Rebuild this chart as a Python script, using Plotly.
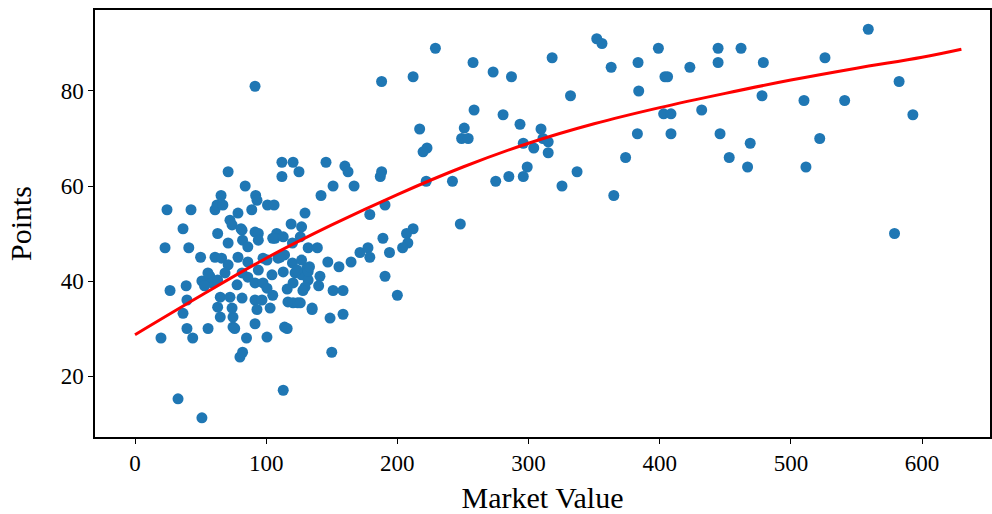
import plotly.graph_objects as go

market_value = [
    19.8, 24.4, 22.9, 26.7, 32.8, 36.6, 36.6, 39, 39.6, 39.6, 41, 42.7, 44, 50, 51, 51, 55.7, 57, 58.7, 55.6, 53,
    61, 62.5, 67, 65.6, 71, 84, 89, 92, 93, 101, 106, 78.5, 72.4, 74, 63, 81.6, 91.5, 94, 108, 113, 106.7,
    71, 82, 86, 94, 105, 120, 132, 119, 127, 129.6, 61, 66, 78.5, 86, 97.6, 109, 114, 120, 127, 71, 68.6,
    81.6, 86, 94, 104.4, 113, 122, 127, 132, 63, 77.8, 91.5, 97.6, 100.6, 116, 129.6, 65, 63, 72.4, 81.6,
    91.5, 96.8, 105, 116.6, 120.5, 124, 135, 65, 74.7, 93, 103, 74.7, 91.5, 114, 76, 85, 80, 82, 100.6, 116,
    80.8, 74, 131, 132, 133, 123.5, 120.5, 110.5, 100.6, 128, 126, 112, 120.5, 112, 125, 145.6, 160, 162.4,
    151, 141.8, 167, 126, 139, 147, 155.5, 164.7, 171.5, 177.6, 179, 179, 189, 194, 190.6, 141, 140, 151,
    158.6, 190.6, 200, 135, 148.7, 158.6, 150, 113, 187, 188, 188, 91.5,
    212, 229, 257.7, 273, 287, 318, 352, 356, 363, 383.5, 399, 404, 406, 384, 332, 258.5, 280.6, 293.5,
    309.5, 311, 315, 296, 304, 217, 251, 249, 254, 222.6, 219.6, 403, 408.6, 383, 408.6, 444.5, 462, 444.5,
    423, 479, 559, 526, 582.5, 478, 510, 541, 593, 432, 446, 469, 522, 453, 467, 511.5, 374, 337, 325.5, 365,
    579, 299, 296, 285, 275, 242, 222, 315, 248, 212, 207, 208, 204,
]
points = [
    28, 55, 47, 38, 15.2, 51, 33.2, 39, 36, 30, 47, 55, 28, 45, 11.2, 40, 30, 41, 39.6, 41.7, 39,
    55, 56, 56, 58, 63, 60, 55, 58, 57, 56, 56, 54.3, 52.8, 51.8, 50, 50.7, 50.3, 50, 50, 49.3, 49,
    48, 48.6, 47.2, 48.6, 49, 48, 47, 52, 51.4, 54.3, 45, 44.8, 45, 44, 44.8, 44.8, 45.5, 43.8, 44.4, 43.4, 41.7,
    41.7, 40.8, 42.3, 41.3, 41.9, 41.7, 41.3, 40.2, 40.2, 39.2, 39.6, 39.6, 38.5, 38.3, 38.7, 36.6, 34.5, 36.6, 36.4,
    36, 36, 37, 35.6, 35.4, 35.4, 34.3, 32.4, 32.4, 34, 34.3, 30.3, 31, 30.3, 30, 28, 24, 25, 28.2, 30,
    51, 34.3, 42.7, 42, 43, 42.3, 39.6, 45, 44.4, 38, 35.4, 65, 65, 62, 63, 65, 64.2, 63,
    60, 58, 60, 49.3, 47, 44, 43, 44, 46, 47, 45, 54, 49, 46, 56, 41, 39, 38,
    38, 41, 37, 34, 32.2, 33, 25, 17, 62, 63, 82, 81,
    83, 89, 86, 84, 83, 87, 91, 90, 85, 86, 89, 83, 83, 80, 79, 76, 75, 73,
    72, 70, 69.3, 69, 68, 72, 72.2, 70, 70, 68, 67.2, 75.2, 75.2, 71, 71, 89, 89, 86,
    85, 86, 93, 87, 82, 79, 78, 78, 75, 76, 71, 69, 70, 66, 64, 64, 66, 63, 60, 58,
    50, 64, 62, 62, 61, 61, 61, 67, 52, 51, 50, 48, 47,
]

# fitted trend line
fit_x = [0, 50, 100, 150, 200, 250, 300, 350, 400, 450, 500, 550, 600, 630]
fit_y = [28.7, 36.9, 44.8, 51.8, 58.2, 64.0, 69.0, 73.1, 76.5, 79.5, 82.3, 84.8, 87.1, 88.8]

x_ticks = [0, 100, 200, 300, 400, 500, 600]
y_ticks = [20, 40, 60, 80]

FONT = "Liberation Serif"

fig = go.Figure()
fig.add_trace(go.Scatter(
    x=market_value, y=points, mode="markers",
    marker=dict(color="#1f77b4", size=11, line=dict(width=0)),
    showlegend=False,
))
fig.add_trace(go.Scatter(
    x=fit_x, y=fit_y, mode="lines",
    line=dict(color="red", width=3, shape="spline", smoothing=1.0),
    showlegend=False,
))

axis_common = dict(
    showline=True, linecolor="black", linewidth=1.5, mirror=True,
    ticks="outside", ticklen=5, tickwidth=1.2, tickcolor="black",
    showgrid=False, zeroline=False,
    tickfont=dict(family=FONT, size=23, color="black"),
)
fig.update_xaxes(range=[-30.5, 651.8], tickvals=x_ticks,
                 title=dict(text="Market Value", font=dict(family=FONT, size=30, color="black"), standoff=13),
                 **axis_common)
fig.update_yaxes(range=[7.16, 97.05], tickvals=y_ticks,
                 title=dict(text="Points", font=dict(family=FONT, size=30, color="black"), standoff=20),
                 **axis_common)

fig.update_layout(
    width=992, height=514,
    margin=dict(l=95, r=2, t=10, b=77, autoexpand=False),
    plot_bgcolor="white", paper_bgcolor="white",
)

fig.write_html("out.html", config={"displayModeBar": False},
               post_script="document.body.style.margin='0';")
